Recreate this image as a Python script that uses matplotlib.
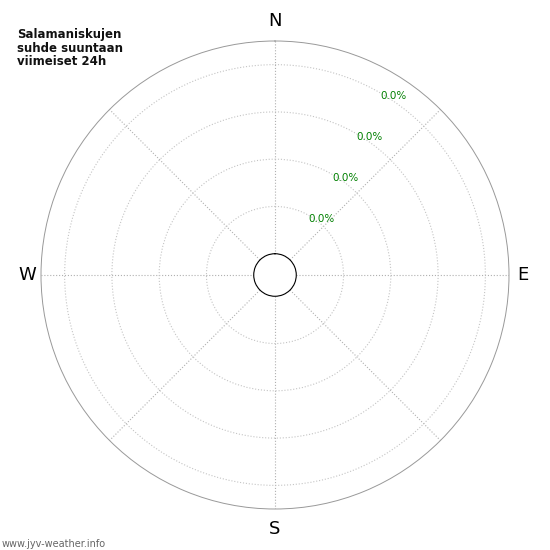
import numpy as np
import matplotlib
matplotlib.use("Agg")
import matplotlib.pyplot as plt
import matplotlib.transforms as mtransforms

# wind sectors and share of lightning strikes (all zero in last 24h)
directions = ['N', 'NE', 'E', 'SE', 'S', 'SW', 'W', 'NW']
freqs = [0, 0, 0, 0, 0, 0, 0, 0]
rticks = [1, 2, 3, 4]
rlabels = ['0.0%', '0.0%', '0.0%', '0.0%']
compass = ['N', 'E', 'S', 'W']

fig = plt.figure(figsize=(5.5, 5.5), dpi=100)
ax = fig.add_axes([41/550, 41/550, 468/550, 468/550], projection='polar')
ax.set_theta_zero_location('N')
ax.set_theta_direction(-1)

theta = np.deg2rad(np.arange(0, 360, 45))
ax.bar(theta, freqs, width=np.deg2rad(40), bottom=0, color='#3a7fd5')

ax.set_ylim(0, 4.5)
ax.set_rorigin(-0.45)
ax.set_yticks(rticks)
ax.set_yticklabels([])
ax.set_xticks(theta)
ax.set_xticklabels([])

# radial labels, nudged off the 30 deg line
off = mtransforms.ScaledTranslation(12/100, -3/100, fig.dpi_scale_trans)
for r, lab in zip(rticks, rlabels):
    ax.text(np.deg2rad(30.3), r, lab, color='green', fontsize=7.5,
            ha='center', va='center', transform=ax.transData + off)

# compass letters
for ang, lab, rr in zip([0, 90, 180, 270], compass, [4.92, 4.80, 4.92, 4.80]):
    ax.text(np.deg2rad(ang), rr, lab, fontsize=13, ha='center', va='center')

ax.xaxis.grid(True, color='#b0b0b0', linestyle=':', linewidth=0.8)
ax.yaxis.grid(True, color='#c4c4c4', linestyle=':', linewidth=0.8)
ax.spines['polar'].set_color('#999999')
ax.spines['polar'].set_linewidth(0.7)
ax.spines['inner'].set_color('black')
ax.spines['inner'].set_linewidth(0.8)

fig.text(17/550, 1 - 28/550, 'Salamaniskujen\nsuhde suuntaan\nviimeiset 24h',
         fontsize=8.5, fontweight='bold', va='top', ha='left', color='#111111',
         linespacing=1.05)
fig.text(2/550, 1 - 544/550, 'www.jyv-weather.info', fontsize=7,
         color='#666666', va='center', ha='left')

fig.savefig('out.png', dpi=100)
